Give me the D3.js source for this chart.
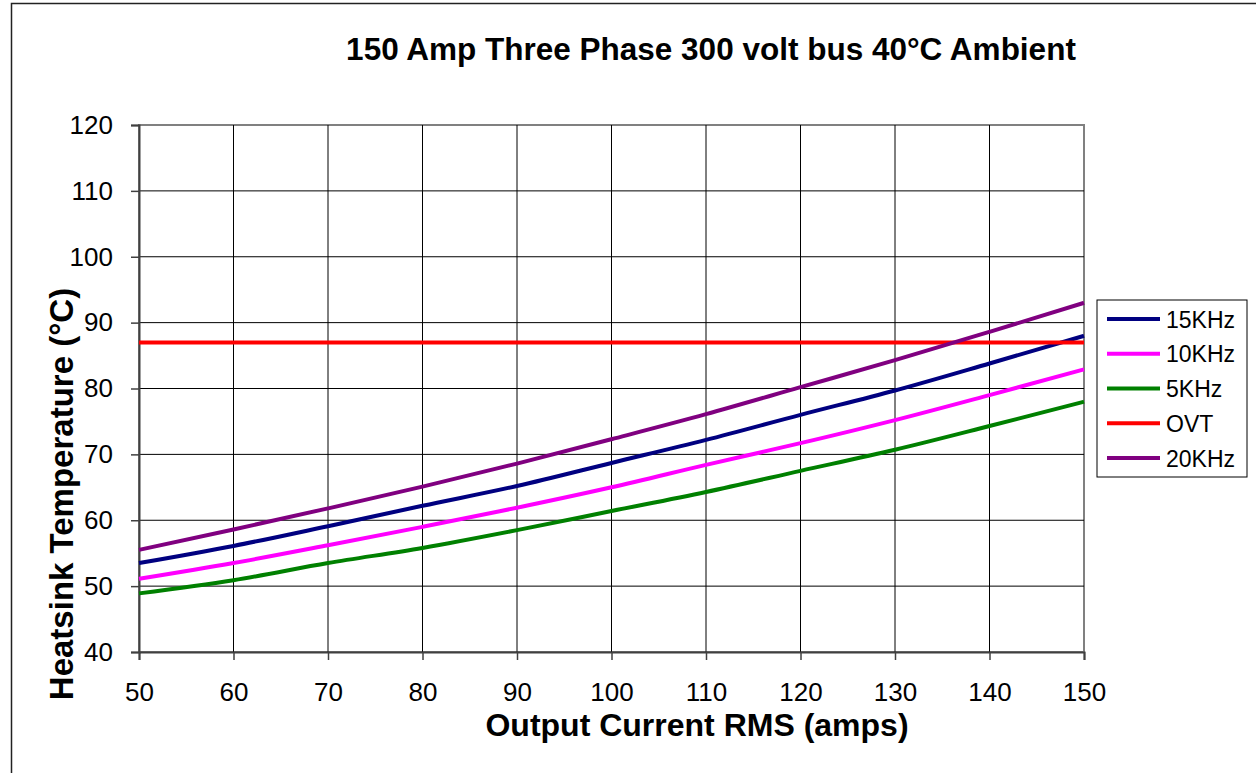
<!DOCTYPE html>
<html><head><meta charset="utf-8">
<script src="https://cdn.jsdelivr.net/npm/d3@7"></script>
<style>body{margin:0;background:#fff;}svg{display:block;font-family:"Liberation Sans",Arial,sans-serif;}</style>
</head><body>
<svg id="c" width="1256" height="773"></svg>
<script>
const current = [50,60,70,80,90,100,110,120,130,140,150];
const khz15 = [53.5,56.1,59.1,62.2,65.2,68.7,72.2,76.0,79.7,83.8,88.0];
const khz10 = [51.1,53.5,56.2,59.0,61.9,65.0,68.4,71.7,75.2,79.0,82.9];
const khz5  = [48.9,50.9,53.5,55.8,58.5,61.4,64.3,67.5,70.7,74.3,78.0];
const ovt   = [87,87,87,87,87,87,87,87,87,87,87];
const khz20 = [55.5,58.6,61.8,65.1,68.6,72.3,76.1,80.2,84.3,88.6,93.0];
const seriesNames = ["15KHz","10KHz","5KHz","OVT","20KHz"];
const seriesColors = ["#000080","#FF00FF","#008000","#FF0000","#800080"];
const xTicks = [50,60,70,80,90,100,110,120,130,140,150];
const yTicks = [40,50,60,70,80,90,100,110,120];
const titleText = "150 Amp Three Phase 300 volt bus 40°C Ambient";
const xTitle = "Output Current RMS (amps)";
const yTitle = "Heatsink Temperature (°C)";

const seriesData = [khz15,khz10,khz5,ovt,khz20];
const svg = d3.select("#c");
const L=139,R=1084,T=125,B=652;
const x = d3.scaleLinear().domain([50,150]).range([L,R]);
const y = d3.scaleLinear().domain([40,120]).range([B,T]);

// outer frame
svg.append("path").attr("d","M11.5,773 L11.5,3.5 L1256,3.5").attr("fill","none").attr("stroke","#222").attr("stroke-width",1.5);

// plot border
svg.append("rect").attr("x",L).attr("y",T).attr("width",R-L).attr("height",B-T)
  .attr("fill","#fff").attr("stroke","#808080").attr("stroke-width",2);

// grid
const g = svg.append("g");
g.selectAll(".vg").data(xTicks.slice(1,-1)).enter().append("line")
  .attr("x1",d=>x(d)).attr("x2",d=>x(d)).attr("y1",T).attr("y2",B).attr("stroke","#000").attr("stroke-width",1);
g.selectAll(".hg").data(yTicks.slice(1,-1)).enter().append("line")
  .attr("y1",d=>y(d)).attr("y2",d=>y(d)).attr("x1",L).attr("x2",R).attr("stroke","#000").attr("stroke-width",1);

// axes
const xa = svg.append("g").attr("transform",`translate(0,${B})`)
  .call(d3.axisBottom(x).tickValues(xTicks).tickSize(8).tickPadding(23).tickFormat(d3.format("d")));
const ya = svg.append("g").attr("transform",`translate(${L},0)`)
  .call(d3.axisLeft(y).tickValues(yTicks).tickSize(8).tickPadding(18).tickFormat(d3.format("d")));
[xa,ya].forEach(a=>{
  a.select(".domain").attr("stroke","#404040").attr("stroke-width",2);
  a.selectAll(".tick line").attr("stroke","#404040").attr("stroke-width",1.5);
  a.selectAll("text").attr("font-size",26).attr("fill","#000").attr("font-family","Liberation Sans, Arial, sans-serif");
});

// lines
const line = d3.line().x((d,i)=>x(current[i])).y(d=>y(d)).curve(d3.curveMonotoneX);
seriesData.forEach((s,k)=>{
  svg.append("path").datum(s).attr("d",line).attr("fill","none")
    .attr("stroke",seriesColors[k]).attr("stroke-width",4).attr("stroke-linecap","butt");
});

// titles
svg.append("text").attr("x",711).attr("y",60).attr("text-anchor","middle")
  .attr("font-size",31.5).attr("font-weight","bold").text(titleText);
svg.append("text").attr("x",697).attr("y",736).attr("text-anchor","middle")
  .attr("font-size",32).attr("font-weight","bold").text(xTitle);
svg.append("text").attr("transform","translate(73,494) rotate(-90)").attr("text-anchor","middle")
  .attr("font-size",33).attr("font-weight","bold").text(yTitle);

// legend
const lg = svg.append("g");
lg.append("rect").attr("x",1097).attr("y",300).attr("width",150).attr("height",177)
  .attr("fill","#fff").attr("stroke","#000").attr("stroke-width",1);
const rowY = d3.scalePoint().domain(seriesNames).range([319,458]);
seriesNames.forEach((n,k)=>{
  lg.append("line").attr("x1",1107).attr("x2",1160).attr("y1",rowY(n)).attr("y2",rowY(n))
    .attr("stroke",seriesColors[k]).attr("stroke-width",4);
  lg.append("text").attr("x",1166).attr("y",rowY(n)+8.5).attr("font-size",23).text(n);
});
</script>
</body></html>
